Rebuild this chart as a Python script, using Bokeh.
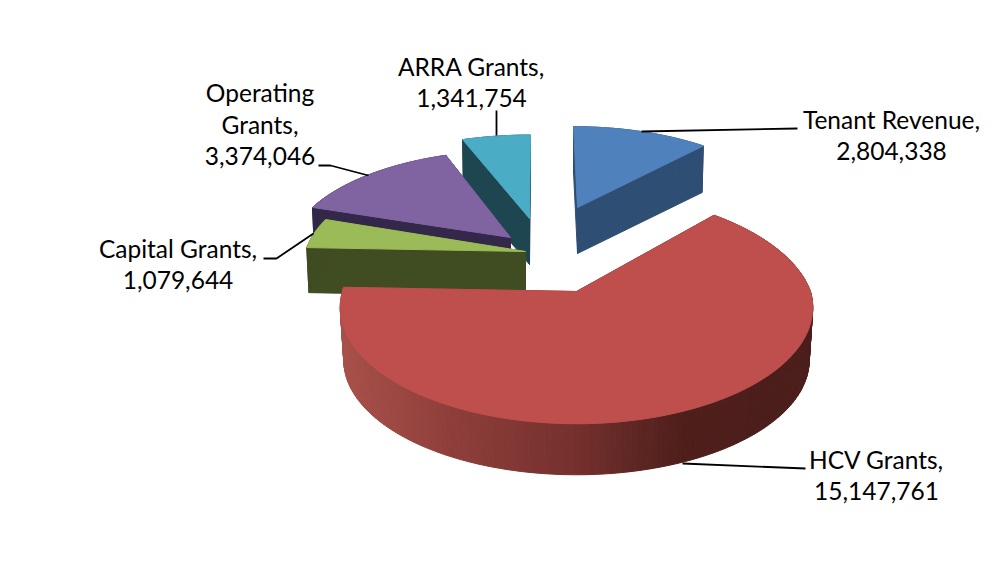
import numpy as np
from bokeh.plotting import figure
from bokeh.core.properties import value
from bokeh.embed import file_html
from bokeh.resources import INLINE

# ---- data (in pie order, clockwise from 12 o'clock)
categories = ["Tenant Revenue", "HCV Grants", "Capital Grants", "Operating Grants", "ARRA Grants"]
values = [2804338, 15147761, 1079644, 3374046, 1341754]

# ---- styles
top_colors = {"Tenant Revenue": "#4F81BD", "HCV Grants": "#BE4F4C", "Capital Grants": "#9BBB59",
              "Operating Grants": "#8064A2", "ARRA Grants": "#4BACC6"}
side_colors = {"Tenant Revenue": "#2F4E73", "HCV Grants": None, "Capital Grants": "#404C22",
               "Operating Grants": "#33284A", "ARRA Grants": "#1D4650"}

# ---- projected geometry of each exploded slice: apex x, apex y, radius x, radius y, far-side skew, depth, bottom scale
KP = 0.138
geometry = {
    "Tenant Revenue":   (577, 207, 210,  92, -4.5, 46, 0.99),
    "HCV Grants":       (576, 291, 234, 114, -9.0, 53, 0.985),
    "Capital Grants":   (525, 251, 220, 105,  0.0, 45, 0.99),
    "Operating Grants": (510, 237, 219,  99,  3.3, 46, 0.99),
    "ARRA Grants":      (529, 218, 220,  95,  1.1, 46, 0.99),
}
draw_order = ["ARRA Grants", "Operating Grants", "Capital Grants", "Tenant Revenue", "HCV Grants"]

# ---- labels: lines per label, centre x, first-line y
label_lines = {
    "Tenant Revenue": (["Tenant Revenue,"], 891, 118.5),
    "HCV Grants": (["HCV Grants,"], 876, 458.5),
    "Capital Grants": (["Capital Grants,"], 177.5, 247.5),
    "Operating Grants": (["Operating", "Grants,"], 259.5, 91.5),
    "ARRA Grants": (["ARRA Grants,"], 471, 65.5),
}
leaders = [
    ([641, 797], [131, 128]),
    ([682, 805], [463, 468]),
    ([263, 276, 313], [258, 258, 233]),
    ([318, 330, 368], [165, 165, 175]),
    ([496, 496], [110, 135]),
]
rim_x = [343, 450, 578, 680, 813]
rim_r = [168, 143, 116, 79, 75]
rim_g = [80, 63, 48, 31, 30]
rim_b = [74, 59, 45, 28, 27]

p = figure(width=990, height=555, x_range=(0, 990), y_range=(555, 0),
           output_backend="svg", toolbar_location=None, min_border=0)
p.axis.visible = False
p.grid.visible = False
p.outline_line_color = None
p.background_fill_color = "white"
p.border_fill_color = "white"

total = sum(values)
bounds = np.concatenate([[0], np.cumsum(values)]) / total * 2 * np.pi
spans = {c: (bounds[i], bounds[i + 1]) for i, c in enumerate(categories)}


def project(cat, ang):
    ox, oy, ax, by, sk, _, _ = geometry[cat]
    x, y = np.sin(ang), np.cos(ang)
    w = 1 + KP * y
    return ox + (ax * x + sk * np.maximum(y, 0)) / w, oy - by * y / w


for cat in draw_order:
    a0, a1 = spans[cat]
    ox, oy, ax, by, sk, depth, bs = geometry[cat]
    ang = np.linspace(a0, a1, max(4, int((a1 - a0) * 50)))
    sx, sy = project(cat, ang)
    tx = np.concatenate([[ox], sx])
    ty = np.concatenate([[oy], sy])
    bx = ox + bs * (tx - ox)
    by_ = oy + bs * (ty - oy) + depth
    n = len(tx)
    qx, qy, qc = [], [], []
    # radial walls first, outer rim afterwards
    for i in [0, n - 1] + list(range(1, n - 1)):
        j = (i + 1) % n
        qx.append([tx[i], tx[j], bx[j], bx[i]])
        qy.append([ty[i], ty[j], by_[j], by_[i]])
        if side_colors[cat]:
            qc.append(side_colors[cat])
        else:
            m = 0.5 * (tx[i] + tx[j])
            qc.append("#%02X%02X%02X" % (int(np.interp(m, rim_x, rim_r)),
                                         int(np.interp(m, rim_x, rim_g)),
                                         int(np.interp(m, rim_x, rim_b))))
    p.patches(qx, qy, fill_color=qc, line_color=qc, line_width=1)
    p.patch(tx, ty, fill_color=top_colors[cat], line_color=top_colors[cat], line_width=1)

for lx, ly in leaders:
    p.line(lx, ly, line_color="black", line_width=1.8)

tx_all, ty_all, tt_all = [], [], []
for cat, val in zip(categories, values):
    lines, cx, y0 = label_lines[cat]
    for k, t in enumerate(lines + [f"{val:,}"]):
        tx_all.append(cx)
        ty_all.append(y0 + k * 32)
        tt_all.append(t)
p.text(tx_all, ty_all, text=tt_all, text_font=value("Lato"), text_font_size="24.5px",
       text_color="#000000", text_align="center", text_baseline="middle")

open("out.html", "w").write(file_html(p, INLINE))
